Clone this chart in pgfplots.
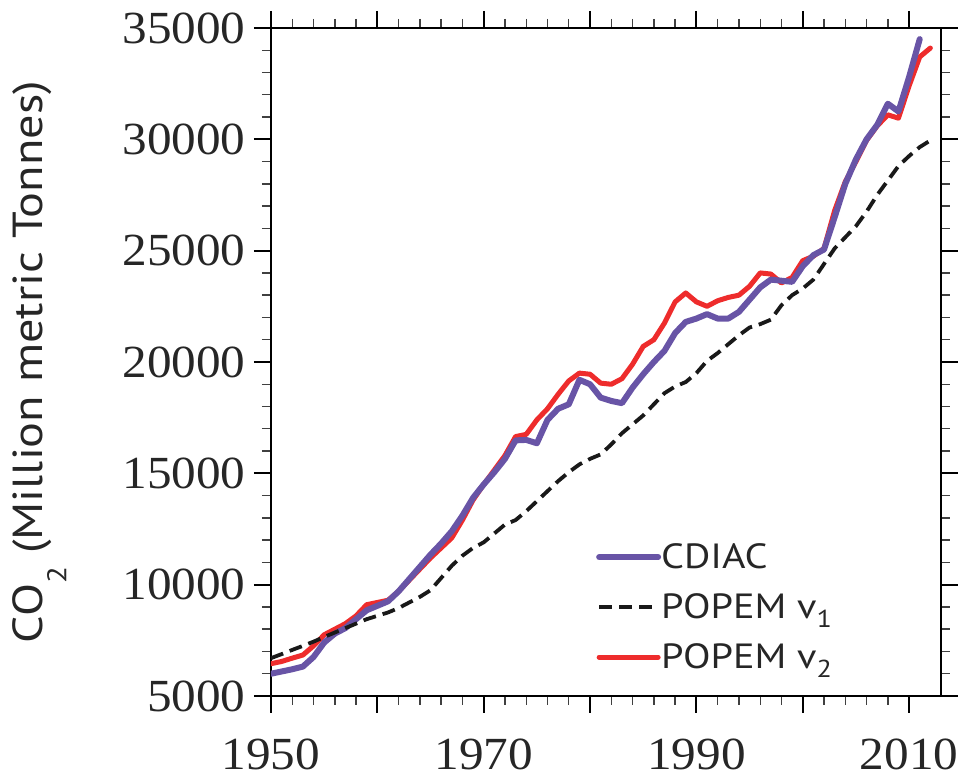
\documentclass[border=0pt]{standalone}
\usepackage{fontspec}
\setmainfont{Liberation Serif}
\newfontfamily\tickfont[FakeStretch=1.07]{Liberation Serif}
\newfontfamily\labelfont[FakeStretch=1.15]{PT Sans}
\usepackage{pgfplots}
\pgfplotsset{compat=1.18}
\definecolor{cdiac}{RGB}{104,84,166}
\definecolor{popred}{RGB}{238,44,44}

\begin{document}
\begin{tikzpicture}
\begin{axis}[
  name=ax,
  at={(0,0)}, anchor=south west,
  scale only axis,
  width=670pt, height=668pt,
  xmin=1950, xmax=2013,
  ymin=5000, ymax=35000,
  xtick={1950,1960,1970,1980,1990,2000,2010},
  xticklabels={1950,,1970,,1990,,2010},
  ytick={5000,10000,15000,20000,25000,30000,35000},
  minor x tick num=4,
  minor y tick num=4,
  xtick pos=both, ytick pos=both,
  tick align=outside,
  major tick length=17pt,
  minor tick length=9pt,
  axis line style={line width=2.2pt},
  major tick style={line width=2pt, black},
  minor tick style={line width=1.4pt, black!75},
  scaled ticks=false,
  /pgf/number format/assume math mode=true,
  /pgf/number format/1000 sep={},
  tick label style={font=\tickfont\fontsize{46}{46}\selectfont, text=black!85},
  xticklabel style={yshift=-22pt},
  yticklabel style={xshift=-5pt},
  ylabel={\labelfont CO\smash{\raisebox{-24pt}{\fontsize{27}{27}\selectfont 2}} (Million metric Tonnes)},
  ylabel style={font=\fontsize{42}{42}\selectfont, text=black!85, yshift=64pt},
  legend style={draw=none, fill=none, at={(rel axis cs:0.485,0.2455)}, anchor=north west,
    font=\labelfont\fontsize{35}{35}\selectfont, text=black!85,
    row sep=0pt, inner sep=0pt,
    nodes={inner sep=0pt, text height=36pt, text depth=14pt},
    /tikz/every even column/.append style={column sep=9pt}},
  legend cell align=left,
  legend image code/.code={\draw[#1] (3pt,0pt) -- (62pt,0pt);},
]
\addplot[popred, line width=5pt, line join=round, line cap=round, forget plot] coordinates {
(1950,6450)(1951,6550)(1952,6700)(1953,6840)(1954,7250)(1955,7750)(1956,8000)(1957,8250)(1958,8600)(1959,9100)
(1960,9200)(1961,9300)(1962,9700)(1963,10200)(1964,10700)(1965,11200)(1966,11650)(1967,12100)(1968,12900)(1969,13800)
(1970,14500)(1971,15150)(1972,15800)(1973,16650)(1974,16750)(1975,17400)(1976,17900)(1977,18550)(1978,19150)(1979,19500)
(1980,19450)(1981,19050)(1982,19000)(1983,19250)(1984,19900)(1985,20700)(1986,21000)(1987,21750)(1988,22700)(1989,23100)
(1990,22700)(1991,22500)(1992,22750)(1993,22900)(1994,23000)(1995,23400)(1996,24000)(1997,23950)(1998,23550)(1999,23800)
(2000,24550)(2001,24750)(2002,25100)(2003,26800)(2004,28100)(2005,29000)(2006,29950)(2007,30600)(2008,31100)(2009,30950)
(2010,32400)(2011,33700)(2012,34100)
};
\addplot[cdiac, line width=6pt, line join=round, line cap=round] coordinates {
(1950,6000)(1951,6100)(1952,6200)(1953,6320)(1954,6750)(1955,7400)(1956,7800)(1957,8050)(1958,8450)(1959,8850)
(1960,9050)(1961,9250)(1962,9700)(1963,10250)(1964,10800)(1965,11350)(1966,11850)(1967,12400)(1968,13100)(1969,13900)
(1970,14500)(1971,15050)(1972,15650)(1973,16480)(1974,16500)(1975,16350)(1976,17400)(1977,17900)(1978,18100)(1979,19200)
(1980,19000)(1981,18400)(1982,18250)(1983,18150)(1984,18850)(1985,19450)(1986,20000)(1987,20500)(1988,21300)(1989,21800)
(1990,21950)(1991,22150)(1992,21950)(1993,21950)(1994,22250)(1995,22800)(1996,23350)(1997,23700)(1998,23650)(1999,23600)
(2000,24300)(2001,24800)(2002,25050)(2003,26500)(2004,28000)(2005,29100)(2006,30000)(2007,30650)(2008,31600)(2009,31250)
(2010,32800)(2011,34500)
};
\addlegendentry{CDIAC}
\addplot[black!90, line width=3.8pt, dash pattern=on 13pt off 7pt, line join=round] coordinates {
(1950,6700)(1951,6880)(1952,7070)(1953,7250)(1954,7440)(1955,7650)(1956,7850)(1957,8050)(1958,8250)(1959,8450)
(1960,8600)(1961,8750)(1962,8950)(1963,9200)(1964,9450)(1965,9750)(1966,10300)(1967,10850)(1968,11300)(1969,11650)
(1970,11900)(1971,12300)(1972,12700)(1973,12900)(1974,13300)(1975,13750)(1976,14200)(1977,14650)(1978,15050)(1979,15400)
(1980,15650)(1981,15850)(1982,16300)(1983,16800)(1984,17200)(1985,17600)(1986,18100)(1987,18600)(1988,18900)(1989,19100)
(1990,19500)(1991,20050)(1992,20400)(1993,20800)(1994,21200)(1995,21550)(1996,21700)(1997,21900)(1998,22550)(1999,23000)
(2000,23300)(2001,23700)(2002,24400)(2003,25100)(2004,25600)(2005,26100)(2006,26750)(2007,27500)(2008,28150)(2009,28800)
(2010,29250)(2011,29650)(2012,29950)
};
\addlegendentry{POPEM v\textsubscript{1}}
\addlegendimage{popred, line width=5pt, line cap=round}
\addlegendentry{POPEM v\textsubscript{2}}
\end{axis}
\pgfresetboundingbox
\path[use as bounding box] ([xshift=-271pt,yshift=-86pt]ax.south west) rectangle ([xshift=18pt,yshift=28pt]ax.north east);
\end{tikzpicture}
\end{document}
